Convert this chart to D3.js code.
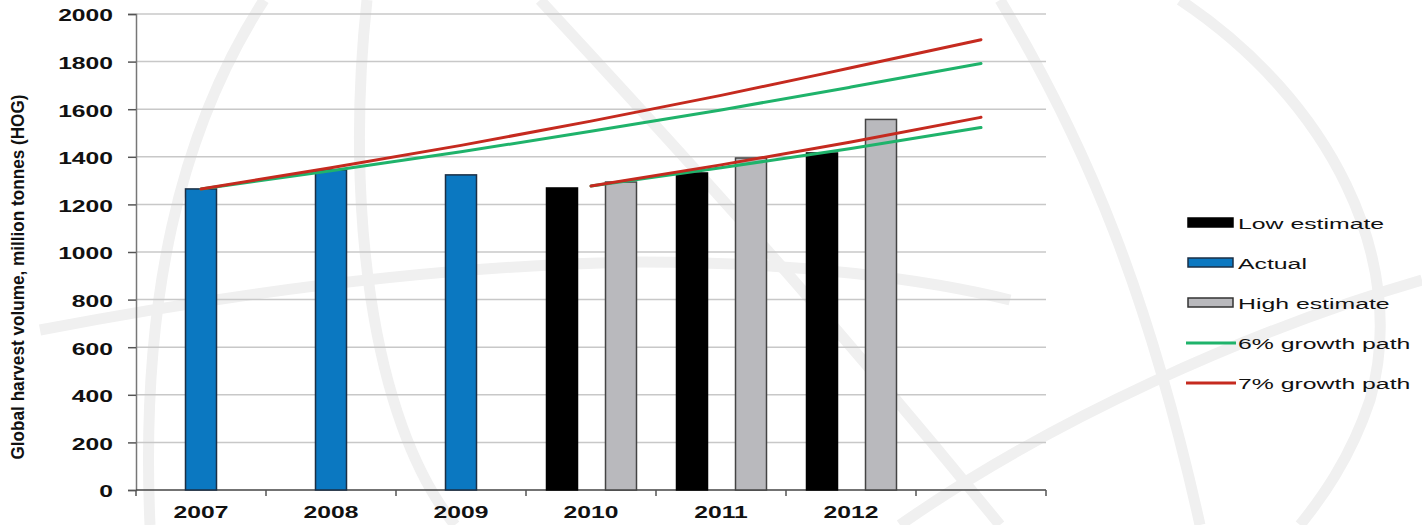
<!DOCTYPE html>
<html><head><meta charset="utf-8">
<script src="https://cdn.jsdelivr.net/npm/d3@7/dist/d3.min.js"></script>
<style>body{margin:0;background:#fff}svg{display:block}text{font-family:"Liberation Sans",Arial,sans-serif}</style>
</head><body><svg id="c" width="1422" height="525"></svg>
<script>
const categories = ["2007","2008","2009","2010","2011","2012","2013"];
const xTickLabels = ["2007","2008","2009","2010","2011","2012",""];
const actual = [{year:"2007",v:1265},{year:"2008",v:1345},{year:"2009",v:1324}];
const lowEstimate = [{year:"2010",v:1269},{year:"2011",v:1332},{year:"2012",v:1416}];
const highEstimate = [{year:"2010",v:1294},{year:"2011",v:1395},{year:"2012",v:1557}];
const growth6Upper = [{year:"2007",v:1265},{year:"2008",v:1341},{year:"2009",v:1421},{year:"2010",v:1507},{year:"2011",v:1597},{year:"2012",v:1693},{year:"2013",v:1792}];
const growth7Upper = [{year:"2007",v:1265},{year:"2008",v:1354},{year:"2009",v:1448},{year:"2010",v:1550},{year:"2011",v:1658},{year:"2012",v:1774},{year:"2013",v:1892}];
const growth6Lower = [{year:"2010",v:1277},{year:"2011",v:1354},{year:"2012",v:1435},{year:"2013",v:1523}];
const growth7Lower = [{year:"2010",v:1277},{year:"2011",v:1366},{year:"2012",v:1462},{year:"2013",v:1566}];
const yTicks = [0,200,400,600,800,1000,1200,1400,1600,1800,2000];
const legendItems = [
  {label:"Low estimate", type:"rect", fill:"#000", stroke:"#000"},
  {label:"Actual", type:"rect", fill:"#0b78c1", stroke:"#1b2f45"},
  {label:"High estimate", type:"rect", fill:"#b9b9bd", stroke:"#333"},
  {label:"6% growth path", type:"line", stroke:"#1fb36b"},
  {label:"7% growth path", type:"line", stroke:"#c52a1f"}
];

const svg = d3.select("#c");
const L = 136, R = 1046, T = 14, B = 490;
const x = d3.scaleBand().domain(categories).range([L, R]);
const y = d3.scaleLinear().domain([0, 2000]).range([B, T]);

function stretch(sel, sx){
  sel.each(function(){
    const w = this.getComputedTextLength();
    if (w > 0) d3.select(this).attr("textLength", w*sx).attr("lengthAdjust","spacingAndGlyphs");
  });
}

// faint watermark (background logo)
const wm = svg.append("g").attr("fill","none").attr("stroke","#f0f0f0").attr("stroke-width",11);
[
  "M264,0 C180,130 140,300 150,525",
  "M367,0 C345,200 370,420 455,525",
  "M540,0 C660,130 800,280 1000,525",
  "M40,330 C250,290 450,265 640,262 C800,262 930,280 1010,300",
  "M1180,0 C1330,100 1410,260 1370,400 C1350,460 1320,500 1300,525",
  "M1000,0 C1090,150 1150,300 1200,525",
  "M900,525 C1050,420 1250,330 1422,280"
].forEach(d=>wm.append("path").attr("d",d));

// gridlines
svg.append("g").selectAll("line").data(yTicks.filter(d=>d>0)).join("line")
  .attr("x1",L).attr("x2",R).attr("y1",d=>y(d)).attr("y2",d=>y(d))
  .attr("stroke","#c8c8c8").attr("stroke-width",1.5);

// y axis
const ya = svg.append("g").attr("transform",`translate(${L},0)`)
  .call(d3.axisLeft(y).tickValues(yTicks).tickSize(8).tickPadding(15).tickFormat(d3.format("d")));
ya.select(".domain").attr("stroke","#777").attr("stroke-width",1.5);
ya.selectAll(".tick line").attr("stroke","#555").attr("stroke-width",1.5);
ya.selectAll("text").attr("font-size",17).attr("font-weight","bold").attr("fill","#111")
  .attr("font-family","Liberation Sans, Arial").attr("dy","0.4em").call(stretch,1.45);

// x axis
svg.append("line").attr("x1",L).attr("x2",R).attr("y1",B).attr("y2",B).attr("stroke","#444").attr("stroke-width",1.5);
const bounds = categories.map(c=>x(c)).concat([R]);
svg.append("g").selectAll("line").data(bounds).join("line")
  .attr("x1",d=>d).attr("x2",d=>d).attr("y1",B).attr("y2",B+6).attr("stroke","#555").attr("stroke-width",1.5);
svg.append("g").selectAll("text").data(categories).join("text")
  .attr("x",d=>x(d)+x.bandwidth()/2).attr("y",B+28).attr("text-anchor","middle")
  .attr("font-size",17).attr("font-weight","bold").attr("fill","#111")
  .text((d,i)=>xTickLabels[i]).call(stretch,1.45);

// y title
svg.append("text").attr("transform",`translate(24,277) rotate(-90) scale(1,1.35)`)
  .attr("text-anchor","middle").attr("font-size",14).attr("font-weight","bold").attr("fill","#111")
  .attr("textLength",365).attr("lengthAdjust","spacingAndGlyphs")
  .text("Global harvest volume, million tonnes (HOG)");

const bw = 31;
function bars(data, offset, fill, stroke){
  svg.append("g").selectAll("rect").data(data).join("rect")
    .attr("x",d=>x(d.year)+x.bandwidth()/2+offset-bw/2).attr("width",bw)
    .attr("y",d=>y(d.v)).attr("height",d=>B-y(d.v))
    .attr("fill",fill).attr("stroke",stroke).attr("stroke-width",1.5);
}
bars(actual, 0, "#0b78c1", "#1b2f45");
bars(lowEstimate, -29, "#000", "#000");
bars(highEstimate, 30, "#b9b9bd", "#444");

const line = d3.line().x(d=>x(d.year)+x.bandwidth()/2).y(d=>y(d.v)).curve(d3.curveMonotoneX);
function path(data, color){
  svg.append("path").datum(data).attr("d",line).attr("fill","none").attr("stroke",color).attr("stroke-width",3).attr("stroke-linecap","round");
}
path(growth6Upper,"#1fb36b");
path(growth7Upper,"#c52a1f");
path(growth6Lower,"#1fb36b");
path(growth7Lower,"#c52a1f");

// legend
const lg = svg.append("g");
legendItems.forEach((it,i)=>{
  const cy = 223 + i*40;
  if(it.type==="rect"){
    lg.append("rect").attr("x",1188).attr("y",cy-5).attr("width",45).attr("height",9)
      .attr("fill",it.fill).attr("stroke",it.stroke).attr("stroke-width",1.5);
  } else {
    lg.append("line").attr("x1",1186).attr("x2",1236).attr("y1",cy).attr("y2",cy)
      .attr("stroke",it.stroke).attr("stroke-width",3);
  }
  lg.append("text").attr("x",1238).attr("y",cy+6).attr("font-size",15.5).attr("fill","#111")
    .text(it.label).call(stretch,1.6);
});
</script></body></html>
